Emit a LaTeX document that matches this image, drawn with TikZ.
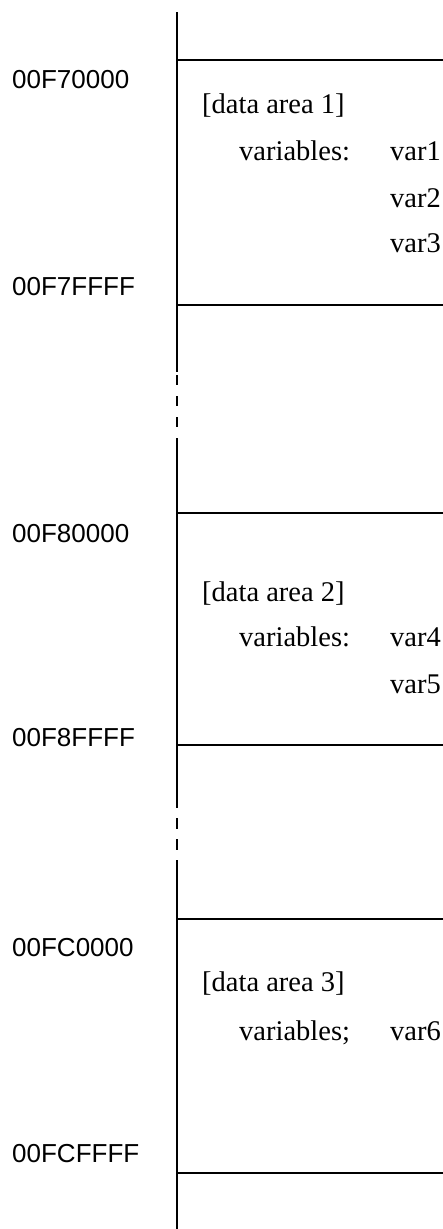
\documentclass[tikz,border=0pt]{standalone}
\usepackage{fontspec}
\setmainfont{Liberation Serif}
\newfontfamily\addrfont{Liberation Sans}

\tikzstyle{addr} = [anchor=base west, inner sep=0pt, font=\addrfont\fontsize{26}{30}\selectfont]
\tikzstyle{txt} = [anchor=base west, inner sep=0pt, font=\fontsize{28.5}{33}\selectfont]
\tikzstyle{wall} = [line width=1.3pt]
\tikzstyle{gap} = [line width=1.3pt, dash pattern=on 10pt off 11pt]

\begin{document}
\begin{tikzpicture}[x=1pt,y=-1pt]
\useasboundingbox (0,0) rectangle (443,1229);

% spine of the memory map
\coordinate (s0) at (177,12);
\coordinate (s1) at (177,372);
\coordinate (g1) at (177,375);
\coordinate (g1e) at (177,427);
\coordinate (s2) at (177,438);
\coordinate (s3) at (177,808);
\coordinate (g2) at (177,818);
\coordinate (g2e) at (177,850);
\coordinate (s4) at (177,860);
\coordinate (s5) at (177,1229);
\draw[wall] (s0) -- (s1);
\draw[gap] (g1) -- (g1e);
\draw[wall] (s2) -- (s3);
\draw[gap, dash pattern=on 11pt off 10pt] (g2) -- (g2e);
\draw[wall] (s4) -- (s5);

% area borders
\draw[wall] (177,60) -- (443,60);
\draw[wall] (177,305) -- (443,305);
\draw[wall] (177,513) -- (443,513);
\draw[wall] (177,745) -- (443,745);
\draw[wall] (177,919) -- (443,919);
\draw[wall] (177,1173) -- (443,1173);

% addresses
\node[addr] (a1) at (12,88) {00F70000};
\node[addr] (a1e) at (12,295) {00F7FFFF};
\node[addr] (a2) at (12,542) {00F80000};
\node[addr] (a2e) at (12,746) {00F8FFFF};
\node[addr] (a3) at (12,956) {00FC0000};
\node[addr] (a3e) at (12,1162) {00FCFFFF};

% data area 1
\node[txt] (area1) at (202,113) {[data area 1]};
\node[txt] (vars1) at (239,160) {variables:};
\node[txt] (var1) at (390,160) {var1};
\node[txt] (var2) at (390,207) {var2};
\node[txt] (var3) at (390,252) {var3};

% data area 2
\node[txt] (area2) at (202,601) {[data area 2]};
\node[txt] (vars2) at (239,646) {variables:};
\node[txt] (var4) at (390,646) {var4};
\node[txt] (var5) at (390,693) {var5};

% data area 3
\node[txt] (area3) at (202,991) {[data area 3]};
\node[txt] (vars3) at (239,1040) {variables;};
\node[txt] (var6) at (390,1040) {var6};
\end{tikzpicture}
\end{document}
